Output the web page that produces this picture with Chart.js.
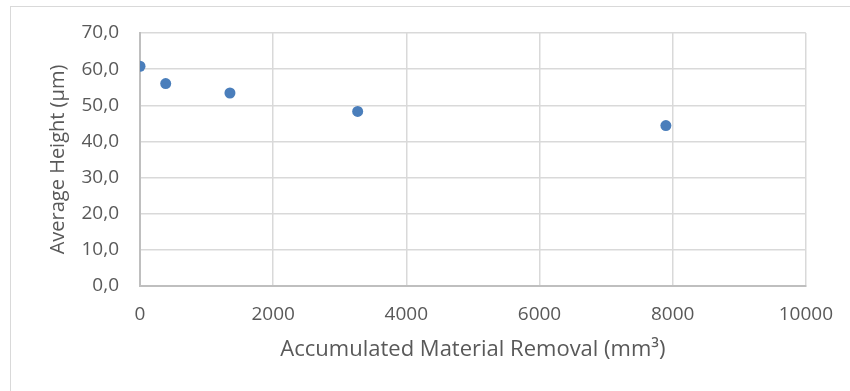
<!DOCTYPE html>
<html>
<head>
<meta charset="utf-8">
<script src="https://cdn.jsdelivr.net/npm/chart.js@4/dist/chart.umd.min.js"></script>
<style>
  html, body { margin: 0; padding: 0; background: #ffffff; }
  #wrap { position: relative; width: 850px; height: 391px; overflow: hidden; background: #fff; }
  #frame { position: absolute; left: 10px; top: 6px; width: 900px; height: 450px; border-top: 1.5px solid #d9d9d9; border-left: 1.5px solid #d9d9d9; box-sizing: border-box; }
  #c { position: absolute; left: 0; top: 0; }
</style>
</head>
<body>
<div id="wrap">
  <div id="frame"></div>
  <canvas id="c" width="850" height="391"></canvas>
</div>
<script>
// Data
const materialRemoval = [0, 386, 1351, 3269, 7898];      // mm³
const averageHeight   = [60.8, 56.0, 53.4, 48.3, 44.4];  // µm
const xTickValues = [0, 2000, 4000, 6000, 8000, 10000];
const yTickValues = [0, 10, 20, 30, 40, 50, 60, 70];
const xTitle = 'Accumulated Material Removal (mm³)';
const yTitle = 'Average Height (µm)';

const points = materialRemoval.map((x, i) => ({ x: x, y: averageHeight[i] }));

const textColor = '#595959';
const gridColor = '#d9d9d9';
const axisColor = '#bfbfbf';
const FONT = "'Open Sans', 'Liberation Sans', sans-serif";

new Chart(document.getElementById('c'), {
  type: 'scatter',
  data: {
    datasets: [{
      data: points,
      backgroundColor: '#4a7ebb',
      borderWidth: 0,
      pointRadius: 5.5,
      pointHoverRadius: 5.5
    }]
  },
  options: {
    responsive: false,
    animation: false,
    events: [],
    layout: { padding: { left: 0, top: 33, right: 43, bottom: 0 } },
    plugins: { legend: { display: false }, tooltip: { enabled: false } },
    scales: {
      x: {
        type: 'linear',
        min: xTickValues[0],
        max: xTickValues[xTickValues.length - 1],
        afterBuildTicks: (s) => { s.ticks = xTickValues.map(v => ({ value: v })); },
        afterFit: (s) => { s.height = 105; },
        ticks: { color: textColor, font: { family: FONT, size: 19 }, padding: 17, maxRotation: 0,
          callback: (v) => String(v) },
        grid: { color: (ctx) => ctx.tick && ctx.tick.value === 0 ? axisColor : gridColor, lineWidth: 1.5, drawTicks: false },
        border: { display: true, color: axisColor, width: 2 },
        title: { display: true, text: xTitle, color: textColor, font: { family: FONT, size: 22 }, padding: { top: 0, bottom: 28 } }
      },
      y: {
        type: 'linear',
        min: yTickValues[0],
        max: yTickValues[yTickValues.length - 1],
        afterBuildTicks: (s) => { s.ticks = yTickValues.map(v => ({ value: v })); },
        afterFit: (s) => { s.width = 140; },
        ticks: {
          color: textColor, font: { family: FONT, size: 19 }, padding: 21,
          callback: (v) => Number(v).toFixed(1).replace('.', ',')
        },
        grid: { color: (ctx) => ctx.tick && ctx.tick.value === 0 ? axisColor : gridColor, lineWidth: 1.5, drawTicks: false },
        border: { display: true, color: axisColor, width: 2 },
        title: { display: true, text: yTitle, color: textColor, font: { family: FONT, size: 20 }, padding: { top: 46, bottom: 0 } }
      }
    }
  }
});
</script>
</body>
</html>
